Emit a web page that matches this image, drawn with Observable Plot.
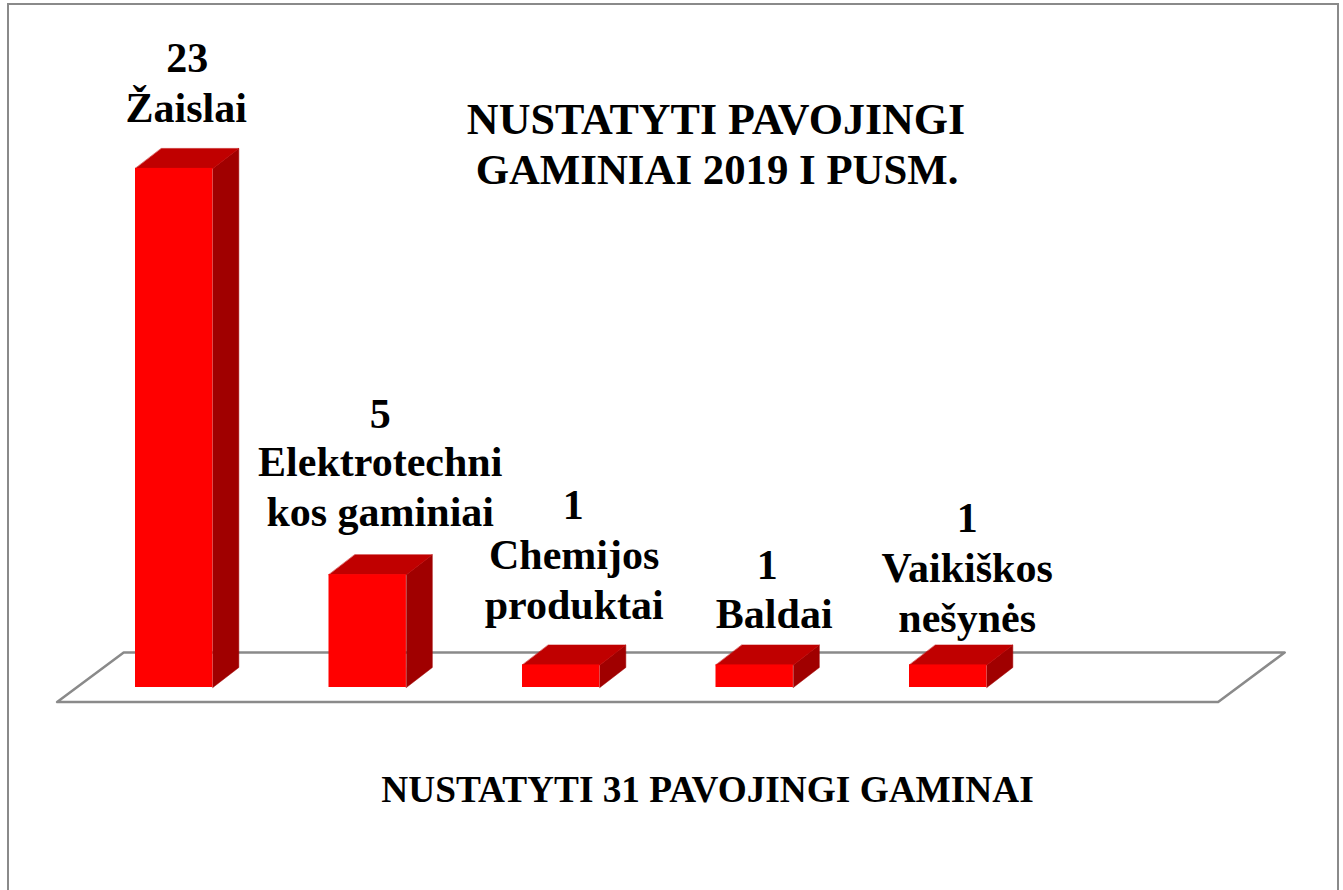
<!DOCTYPE html>
<html lang="lt">
<head>
<meta charset="utf-8">
<title>Nustatyti pavojingi gaminiai</title>
<script src="https://cdn.jsdelivr.net/npm/d3@7"></script>
<script src="https://cdn.jsdelivr.net/npm/@observablehq/plot@0.6"></script>
<style>
  html, body { margin: 0; padding: 0; background: #fff; overflow: hidden; }
  svg { display: block; }
</style>
</head>
<body>
<div id="chart"></div>
<script>
// Data
const categories = ["Žaislai", "Elektrotechni\nkos gaminiai", "Chemijos\nproduktai", "Baldai", "Vaikiškos\nnešynės"];
const values = [23, 5, 1, 1, 1];
const titleLine1 = "NUSTATYTI PAVOJINGI";
const titleLine2 = "GAMINIAI 2019 I PUSM.";
const footerText = "NUSTATYTI 31 PAVOJINGI GAMINAI";

// Layout
const W = 1343, H = 890;
const serif = "'Liberation Serif', 'Times New Roman', serif";
const pxPerCategory = 193.5, pxPerValue = 22.57, originX = 173.7, originY = 687;
const halfBar = 0.2, depthX = 0.134, depthY = 0.886;       // bar size in chart units
const slots = 6, floorLeft = -0.605, floorFront = -0.644;  // floor in chart units
const floorDepthX = 0.344, floorDepthY = 2.2;
const numberOffset = [[13, -110], [12.5, -160.5], [12, -159.5], [12.5, -99.5], [19, -146.5]];
const labelOffset  = [[12, -62], [12.5, -90], [13, -86.5], [19.5, -52.5], [19, -73.5]];

const bars = categories.map((name, i) => ({name, value: values[i], i}));
const poly = (id, pts) => pts.map(([x, y]) => ({id, x, y}));
const side = bars.flatMap(d => poly(d.i, [
  [d.i + halfBar, 0], [d.i + halfBar + depthX, depthY],
  [d.i + halfBar + depthX, d.value + depthY], [d.i + halfBar, d.value]]));
const top3d = bars.flatMap(d => poly(d.i, [
  [d.i - halfBar, d.value], [d.i + halfBar, d.value],
  [d.i + halfBar + depthX, d.value + depthY], [d.i - halfBar + depthX, d.value + depthY]]));
const floor = poly("floor", [
  [floorLeft, floorFront], [floorLeft + slots, floorFront],
  [floorLeft + slots + floorDepthX, floorFront + floorDepthY],
  [floorLeft + floorDepthX, floorFront + floorDepthY]]);

const face = (data, fill) => Plot.line(data, {x: "x", y: "y", z: "id", fill, stroke: fill, strokeWidth: 0.5, curve: "linear-closed"});
const txt = {fontFamily: serif, fontWeight: "bold", fill: "#000"};
const labelSize = 42, footerSize = 37.3;
const free = {frameAnchor: "top-left", textAnchor: "middle", lineAnchor: "middle"};

const chart = Plot.plot({
  width: W, height: H,
  marginTop: 0, marginRight: 0, marginBottom: 0, marginLeft: 0,
  x: {type: "linear", domain: [-originX / pxPerCategory, (W - originX) / pxPerCategory], range: [0, W], axis: null},
  y: {type: "linear", domain: [(originY - H) / pxPerValue, originY / pxPerValue], range: [H, 0], axis: null},
  marks: [
    Plot.frame({stroke: "#8a8a8a", strokeWidth: 2, insetLeft: 7.5, insetTop: 3.5, insetRight: 5.5, insetBottom: -10}),
    Plot.line(floor, {x: "x", y: "y", z: "id", stroke: "#8a8a8a", strokeWidth: 2.5, fill: "none", curve: "linear-closed"}),
    face(side, "#a00000"),
    face(top3d, "#c00000"),
    Plot.rect(bars, {x1: d => d.i - halfBar, x2: d => d.i + halfBar, y1: 0, y2: "value", fill: "#ff0000"}),
    ...bars.flatMap((d, i) => [
      Plot.text([d], {x: "i", y: "value", text: v => String(v.value), dx: numberOffset[i][0], dy: numberOffset[i][1], fontSize: labelSize, ...txt}),
      Plot.text([d], {x: "i", y: "value", text: "name", dx: labelOffset[i][0], dy: labelOffset[i][1], fontSize: labelSize, lineHeight: 50 / labelSize, ...txt})
    ]),
    Plot.text([titleLine1], {text: d => d, ...free, dx: 715.5, dy: 119.5, fontSize: 44, ...txt}),
    Plot.text([titleLine2], {text: d => d, ...free, dx: 716.5, dy: 169.5, fontSize: 42.8, ...txt}),
    Plot.text([footerText], {text: d => d, ...free, dx: 707, dy: 790, fontSize: footerSize, ...txt})
  ]
});
chart.style.maxWidth = "none";
document.getElementById("chart").append(chart);
</script>
</body>
</html>
